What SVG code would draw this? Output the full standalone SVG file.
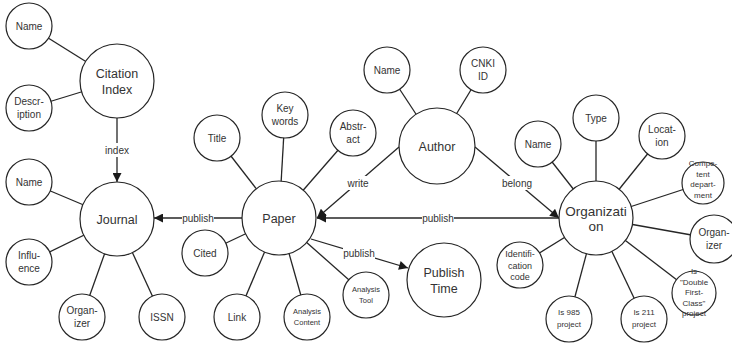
<svg xmlns="http://www.w3.org/2000/svg" width="732" height="345" viewBox="0 0 732 345">
  <style>
    text { font-family: "Liberation Sans", Arial, sans-serif; fill: #333333; text-anchor: middle; }
    .node circle { fill: #ffffff; stroke: #262626; stroke-width: 1.2; }
    .big { font-size: 12.5px; }
    .org { font-size: 13.5px; }
    .sm { font-size: 10px; }
    .mid { font-size: 9px; }
    .xs { font-size: 8px; }
    .xxs { font-size: 7.5px; }
    .edge { stroke: #262626; stroke-width: 1.3; fill: none; }
    .lbl { font-size: 10px; }
    .bg { fill: #ffffff; }
  </style>
  <defs>
    <marker id="arrow" viewBox="0 0 10 10" refX="10" refY="5" markerWidth="10" markerHeight="9" orient="auto" markerUnits="userSpaceOnUse">
      <path d="M0,0 L10,5 L0,10 z" fill="#1a1a1a"/>
    </marker>
  </defs>
  <rect width="732" height="345" fill="#ffffff"/>

  <!-- connectors: attribute links run centre to centre under the white node discs -->
  <g id="connectors">
    <line class="edge" x1="29" y1="26" x2="117" y2="81"/>
    <line class="edge" x1="29" y1="108" x2="117" y2="81"/>
    <line class="edge" x1="29" y1="182" x2="117" y2="219"/>
    <line class="edge" x1="29" y1="262" x2="117" y2="219"/>
    <line class="edge" x1="82" y1="317" x2="117" y2="219"/>
    <line class="edge" x1="162" y1="317" x2="117" y2="219"/>

    <line class="edge" x1="217" y1="138" x2="279" y2="218"/>
    <line class="edge" x1="285" y1="115" x2="279" y2="218"/>
    <line class="edge" x1="353" y1="133" x2="279" y2="218"/>
    <line class="edge" x1="205" y1="253" x2="279" y2="218"/>
    <line class="edge" x1="237" y1="317" x2="279" y2="218"/>
    <line class="edge" x1="307" y1="317" x2="279" y2="218"/>
    <line class="edge" x1="366" y1="295" x2="279" y2="218"/>

    <line class="edge" x1="387" y1="70" x2="437" y2="146"/>
    <line class="edge" x1="483" y1="70" x2="437" y2="146"/>

    <line class="edge" x1="538" y1="144" x2="596" y2="218"/>
    <line class="edge" x1="596" y1="118" x2="596" y2="218"/>
    <line class="edge" x1="662" y1="136" x2="596" y2="218"/>
    <line class="edge" x1="703" y1="183" x2="596" y2="218"/>
    <line class="edge" x1="714" y1="239" x2="596" y2="218"/>
    <line class="edge" x1="694" y1="293" x2="596" y2="218"/>
    <line class="edge" x1="644" y1="319" x2="596" y2="218"/>
    <line class="edge" x1="569" y1="319" x2="596" y2="218"/>
    <line class="edge" x1="520" y1="265" x2="596" y2="218"/>

    <!-- relations -->
    <line class="edge" x1="117" y1="118" x2="117" y2="182" marker-end="url(#arrow)"/>
    <line class="edge" x1="242" y1="218" x2="154" y2="218" marker-end="url(#arrow)"/>
    <line class="edge" x1="399" y1="147" x2="317" y2="218" marker-end="url(#arrow)"/>
    <line class="edge" x1="475" y1="147" x2="559" y2="218" marker-end="url(#arrow)"/>
    <line class="edge" x1="559" y1="218" x2="317" y2="218" marker-end="url(#arrow)"/>
    <line class="edge" x1="311" y1="239" x2="408" y2="268" marker-end="url(#arrow)"/>

    <rect class="bg" x="104" y="143" width="26" height="14"/>
    <text class="lbl" x="117" y="153.5">index</text>
    <rect class="bg" x="182" y="211" width="32" height="14"/>
    <text class="lbl" x="198" y="221.5">publish</text>
    <rect class="bg" x="346" y="176" width="24" height="14"/>
    <text class="lbl" x="358" y="186.5">write</text>
    <rect class="bg" x="501" y="176" width="32" height="14"/>
    <text class="lbl" x="517" y="186.5">belong</text>
    <rect class="bg" x="422" y="211" width="32" height="14"/>
    <text class="lbl" x="438" y="221.5">publish</text>
    <rect class="bg" x="343" y="246" width="32" height="14"/>
    <text class="lbl" x="359" y="256.5">publish</text>
  </g>

  <!-- Citation Index and its attributes -->
  <g id="citation-index" class="node">
    <circle cx="117" cy="81" r="37"/>
    <text class="big"><tspan x="117" y="77.5">Citation</tspan><tspan x="117" y="93.5">Index</tspan></text>
  </g>
  <g id="ci-name" class="node">
    <circle cx="29" cy="26" r="23"/>
    <text class="sm" x="29" y="29.5">Name</text>
  </g>
  <g id="ci-description" class="node">
    <circle cx="29" cy="108" r="23"/>
    <text class="sm"><tspan x="29" y="104.5">Descr-</tspan><tspan x="29" y="117.5">iption</tspan></text>
  </g>

  <!-- Journal and its attributes -->
  <g id="journal" class="node">
    <circle cx="117" cy="219" r="37"/>
    <text class="big" x="117" y="223.5">Journal</text>
  </g>
  <g id="j-name" class="node">
    <circle cx="29" cy="182" r="23"/>
    <text class="sm" x="29" y="185.5">Name</text>
  </g>
  <g id="j-influence" class="node">
    <circle cx="29" cy="262" r="23"/>
    <text class="sm"><tspan x="29" y="258.5">Influ-</tspan><tspan x="29" y="271.5">ence</tspan></text>
  </g>
  <g id="j-organizer" class="node">
    <circle cx="82" cy="317" r="23"/>
    <text class="sm"><tspan x="82" y="313.5">Organ-</tspan><tspan x="82" y="326.5">izer</tspan></text>
  </g>
  <g id="j-issn" class="node">
    <circle cx="162" cy="317" r="23"/>
    <text class="sm" x="162" y="320.5">ISSN</text>
  </g>

  <!-- Paper and its attributes -->
  <g id="paper" class="node">
    <circle cx="279" cy="218" r="37"/>
    <text class="big" x="279" y="222.5">Paper</text>
  </g>
  <g id="p-title" class="node">
    <circle cx="217" cy="138" r="23"/>
    <text class="sm" x="217" y="141.5">Title</text>
  </g>
  <g id="p-keywords" class="node">
    <circle cx="285" cy="115" r="23"/>
    <text class="sm"><tspan x="285" y="111.5">Key</tspan><tspan x="285" y="124.5">words</tspan></text>
  </g>
  <g id="p-abstract" class="node">
    <circle cx="353" cy="133" r="23"/>
    <text class="sm"><tspan x="353" y="129.5">Abstr-</tspan><tspan x="353" y="142.5">act</tspan></text>
  </g>
  <g id="p-cited" class="node">
    <circle cx="205" cy="253" r="23"/>
    <text class="sm" x="205" y="256.5">Cited</text>
  </g>
  <g id="p-link" class="node">
    <circle cx="237" cy="317" r="23"/>
    <text class="sm" x="237" y="320.5">Link</text>
  </g>
  <g id="p-analysis-content" class="node">
    <circle cx="307" cy="317" r="23"/>
    <text class="xxs"><tspan x="307" y="313.5">Analysis</tspan><tspan x="307" y="324.5">Content</tspan></text>
  </g>
  <g id="p-analysis-tool" class="node">
    <circle cx="366" cy="295" r="23"/>
    <text class="xxs"><tspan x="366" y="291.5">Analysis</tspan><tspan x="366" y="302.5">Tool</tspan></text>
  </g>

  <g id="publish-time" class="node">
    <circle cx="444" cy="280" r="37"/>
    <text class="big"><tspan x="444" y="276.5">Publish</tspan><tspan x="444" y="292.5">Time</tspan></text>
  </g>

  <!-- Author and its attributes -->
  <g id="author" class="node">
    <circle cx="437" cy="146" r="38"/>
    <text class="big" x="437" y="150.5">Author</text>
  </g>
  <g id="a-name" class="node">
    <circle cx="387" cy="70" r="23"/>
    <text class="sm" x="387" y="73.5">Name</text>
  </g>
  <g id="a-cnki-id" class="node">
    <circle cx="483" cy="70" r="23"/>
    <text class="sm"><tspan x="483" y="66.5">CNKI</tspan><tspan x="483" y="79.5">ID</tspan></text>
  </g>

  <!-- Organization and its attributes -->
  <g id="organization" class="node">
    <circle cx="596" cy="218" r="37"/>
    <text class="org"><tspan x="596" y="215.5">Organizati</tspan><tspan x="596" y="231">on</tspan></text>
  </g>
  <g id="o-name" class="node">
    <circle cx="538" cy="144" r="23"/>
    <text class="sm" x="538" y="147.5">Name</text>
  </g>
  <g id="o-type" class="node">
    <circle cx="596" cy="118" r="23"/>
    <text class="sm" x="596" y="121.5">Type</text>
  </g>
  <g id="o-location" class="node">
    <circle cx="662" cy="136" r="23"/>
    <text class="sm"><tspan x="662" y="132.5">Locat-</tspan><tspan x="662" y="145.5">ion</tspan></text>
  </g>
  <g id="o-competent-department" class="node">
    <circle cx="703" cy="183" r="21"/>
    <text class="xs"><tspan x="703" y="166">Compe-</tspan><tspan x="703" y="176.5">tent</tspan><tspan x="703" y="187">depart-</tspan><tspan x="703" y="197.5">ment</tspan></text>
  </g>
  <g id="o-organizer" class="node">
    <circle cx="714" cy="239" r="24"/>
    <text class="sm"><tspan x="714" y="235.5">Organ-</tspan><tspan x="714" y="248.5">izer</tspan></text>
  </g>
  <g id="o-double-first-class" class="node">
    <circle cx="694" cy="293" r="22"/>
    <text class="xs"><tspan x="694" y="274">Is</tspan><tspan x="694" y="284.5">"Double</tspan><tspan x="694" y="295">First-</tspan><tspan x="694" y="305.5">Class"</tspan><tspan x="694" y="316">project</tspan></text>
  </g>
  <g id="o-211" class="node">
    <circle cx="644" cy="319" r="23"/>
    <text class="xs"><tspan x="644" y="315">Is 211</tspan><tspan x="644" y="327">project</tspan></text>
  </g>
  <g id="o-985" class="node">
    <circle cx="569" cy="319" r="23"/>
    <text class="xs"><tspan x="569" y="315">Is 985</tspan><tspan x="569" y="327">project</tspan></text>
  </g>
  <g id="o-identification-code" class="node">
    <circle cx="520" cy="265" r="23"/>
    <text class="mid"><tspan x="520" y="257">Identifi-</tspan><tspan x="520" y="268.5">cation</tspan><tspan x="520" y="280">code</tspan></text>
  </g>
</svg>
